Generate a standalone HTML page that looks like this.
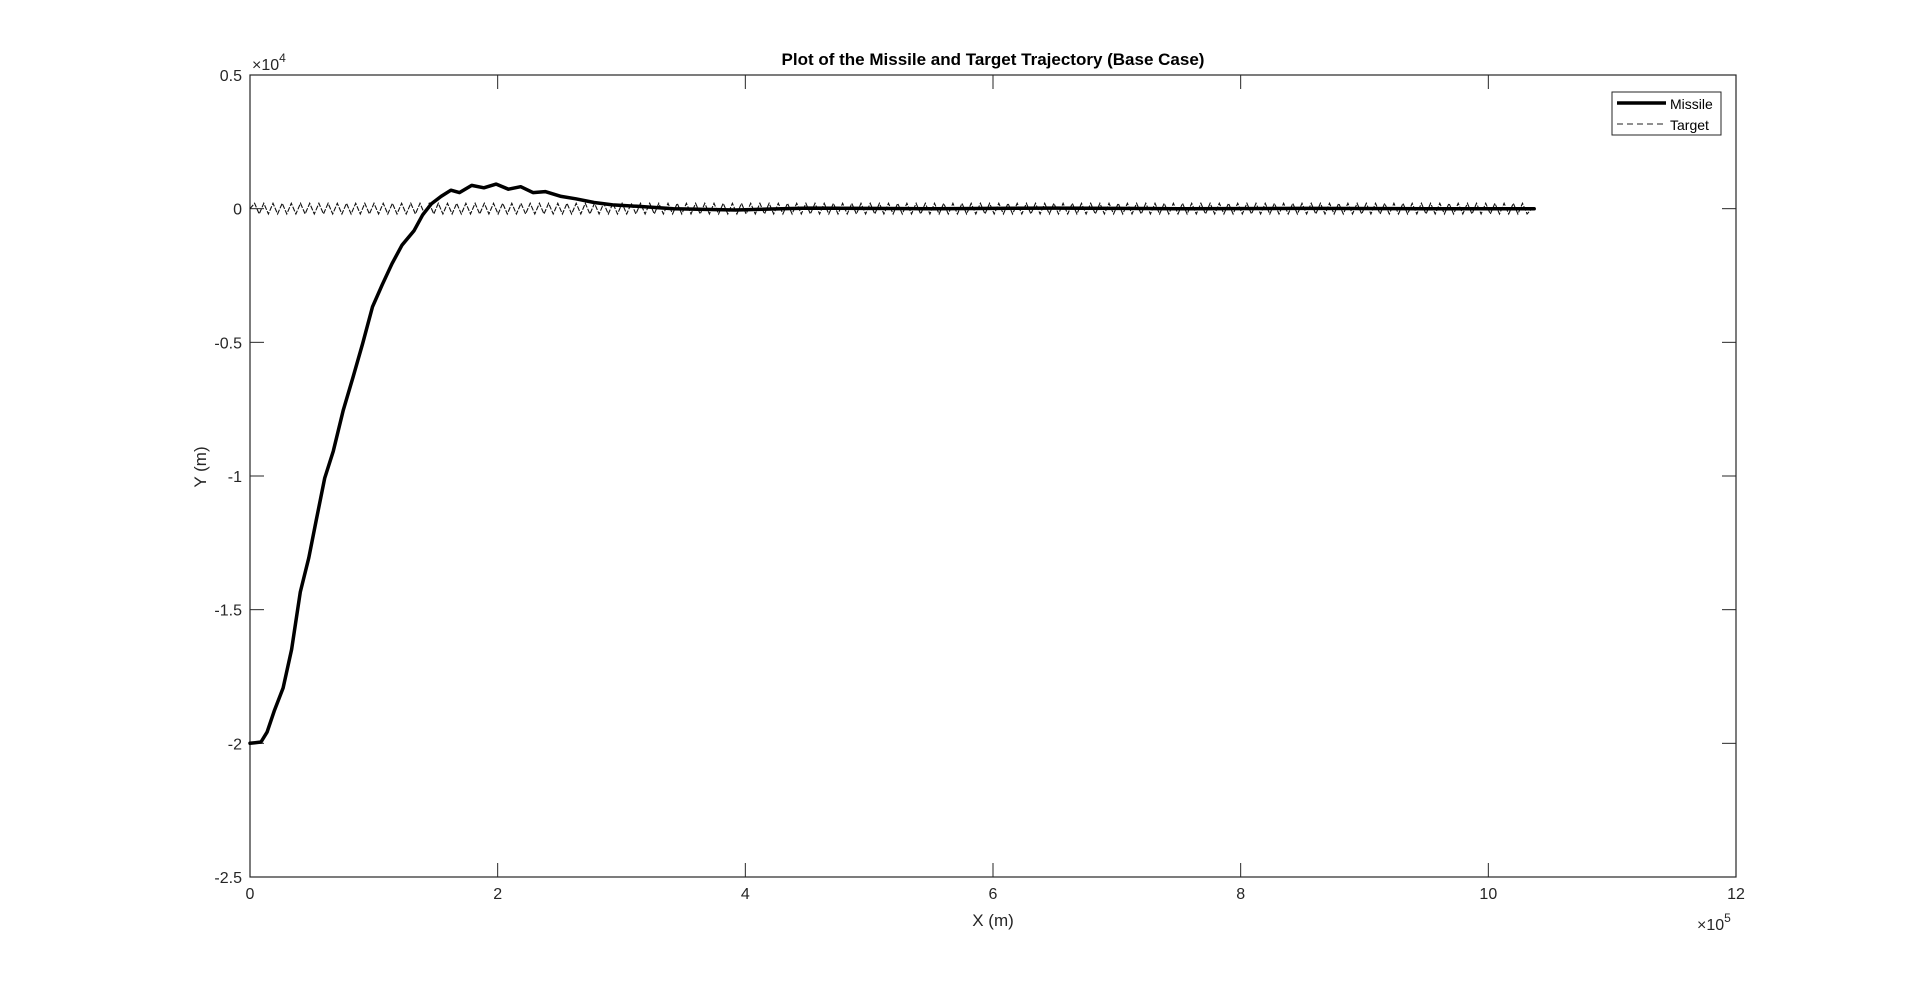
<!DOCTYPE html>
<html><head><meta charset="utf-8"><style>
html,body{margin:0;padding:0;background:#fff;}
svg{display:block;font-family:"Liberation Sans",Arial,sans-serif;}
</style></head><body>
<svg id="chart" width="1920" height="986">
<rect x="0" y="0" width="1920" height="986" fill="#fff"/>
<g id="axes"></g>
<g id="series"></g>
</svg>
<script>
const missileX=[0,0.089,0.138,0.198,0.267,0.336,0.406,0.475,0.534,0.603,0.673,0.752,0.831,0.91,0.989,1.068,1.147,1.227,1.325,1.395,1.464,1.543,1.622,1.691,1.79,1.889,1.988,2.087,2.186,2.285,2.384,2.512,2.631,2.779,2.928,3.126,3.42,3.92,4.5,5.5,6.5,7.5,8.5,9.5,10.37];
const missileY=[-2.0,-1.995,-1.958,-1.876,-1.793,-1.649,-1.434,-1.306,-1.168,-1.008,-0.907,-0.756,-0.632,-0.504,-0.367,-0.284,-0.206,-0.137,-0.082,-0.023,0.018,0.046,0.069,0.06,0.087,0.078,0.092,0.073,0.082,0.06,0.064,0.046,0.037,0.023,0.014,0.009,0.0,-0.005,0.002,0.0,0.002,0.0,0.001,0.0,0.0];
const targetY=[0,0.02,-0.02,0.02,-0.02,0.02,-0.02,0.02,-0.02,0.02,-0.02,0.02,-0.02,0.02,-0.02,0.02,-0.02,0.02,-0.02,0.02,-0.02,0.02,-0.02,0.02,-0.02,0.02,-0.02,0.02,-0.02,0.02,-0.02,0.02,-0.02,0.02,-0.02,0.02,-0.02,0.02,-0.02,0.02,-0.02,0.02,-0.02,0.02,-0.02,0.02,-0.02,0.02,-0.02,0.02,-0.02,0.02,-0.02,0.02,-0.02,0.02,-0.02,0.02,-0.02,0.02,-0.02,0.02,-0.02,0.02,-0.02,0.02,-0.02,0.02,-0.02,0.02,-0.02,0.02,-0.02,0.02,-0.02,0.02,-0.02,0.02,-0.02,0.02,-0.02,0.02,-0.02,0.02,-0.02,0.02,-0.02,0.02,-0.02,0.02,-0.02,0.02,-0.02,0.02,-0.02,0.02,-0.02,0.02,-0.02,0.02,-0.02,0.02,-0.02,0.02,-0.02,0.02,-0.02,0.02,-0.02,0.02,-0.02,0.02,-0.02,0.02,-0.02,0.02,-0.02,0.02,-0.02,0.02,-0.02,0.02,-0.02,0.02,-0.02,0.02,-0.02,0.02,-0.02,0.02,-0.02,0.02,-0.02,0.02,-0.02,0.02,-0.02,0.02,-0.02,0.02,-0.02,0.02,-0.02,0.02,-0.02,0.02,-0.02,0.02,-0.02,0.02,-0.02,0.02,-0.02,0.02,-0.02,0.02,-0.02,0.02,-0.02,0.02,-0.02,0.02,-0.02,0.02,-0.02,0.02,-0.02,0.02,-0.02,0.02,-0.02,0.02,-0.02,0.02,-0.02,0.02,-0.02,0.02,-0.02,0.02,-0.02,0.02,-0.02,0.02,-0.02,0.02,-0.02,0.02,-0.02,0.02,-0.02,0.02,-0.02,0.02,-0.02,0.02,-0.02,0.02,-0.02,0.02,-0.02,0.02,-0.02,0.02,-0.02,0.02,-0.02,0.02,-0.02,0.02,-0.02,0.02,-0.02,0.02,-0.02,0.02,-0.02,0.02,-0.02,0.02,-0.02,0.02,-0.02,0.02,-0.02,0.02,-0.02,0.02,-0.02,0.02,-0.02,0.02,-0.02,0.02,-0.02,0.02,-0.02,0.02,-0.02,0.02,-0.02,0.02,-0.02,0.02,-0.02,0.02,-0.02,0.02,-0.02,0.02,-0.02,0.02,-0.02,0.02,-0.02,0.02,-0.02,0.02,-0.02,0.02,-0.02,0.02,-0.02,0.02,-0.02,0.02,-0.02,0.02,-0.02,0.02,-0.02,0.02,-0.02,0.02,-0.02,0.02,-0.02,0.02,-0.02,0];
const targetXEnd=10.35;
const xTicks=[0,2,4,6,8,10,12];
const yTicks=[0.5,0,-0.5,-1,-1.5,-2,-2.5];
const yTickLabels=["0.5","0","-0.5","-1","-1.5","-2","-2.5"];

const L=250,R=1736,T=75,B=877;
const xS=v=>L+(v-0)/(12-0)*(R-L);
const yS=v=>B-(v+2.5)/3*(B-T);
const NS="http://www.w3.org/2000/svg";
const ax=document.getElementById('axes'), se=document.getElementById('series');
function mk(tag,attrs,parent,text){const e=document.createElementNS(NS,tag);for(const k in attrs)e.setAttribute(k,attrs[k]);if(text!=null)e.textContent=text;parent.appendChild(e);return e;}

let box=mk('rect',{x:L,y:T,width:R-L,height:B-T,fill:'none',stroke:'#262626','stroke-width':1.2},ax);


xTicks.forEach(t=>{const x=xS(t);
 mk('line',{x1:x,y1:B,x2:x,y2:B-14,stroke:'#262626'},ax);
 mk('line',{x1:x,y1:T,x2:x,y2:T+14,stroke:'#262626'},ax);
 const tx=mk('text',{x:x,y:B+22,'text-anchor':'middle','font-size':16,fill:'#262626'},ax,String(t));
 
 
});
yTicks.forEach((t,i)=>{const y=yS(t);
 mk('line',{x1:L,y1:y,x2:L+14,y2:y,stroke:'#262626'},ax);
 mk('line',{x1:R,y1:y,x2:R-14,y2:y,stroke:'#262626'},ax);
 const tx=mk('text',{x:L-8,y:y+6,'text-anchor':'end','font-size':16,fill:'#262626'},ax,yTickLabels[i]);
 
 
});

let td='';targetY.forEach((v,i)=>{const x=xS(targetXEnd*i/(targetY.length-1));td+=(i?'L':'M')+x.toFixed(1)+','+yS(v).toFixed(1);});
let tp=mk('path',{d:td,fill:'none',stroke:'#111','stroke-width':1.1,'stroke-dasharray':'5,1.5'},se);


let md='';missileX.forEach((v,i)=>{md+=(i?'L':'M')+xS(v).toFixed(1)+','+yS(missileY[i]).toFixed(1);});
let mp=mk('path',{d:md,fill:'none',stroke:'#000','stroke-width':3.5,'stroke-linejoin':'round','stroke-linecap':'round'},se);


</script>
<div style="position:absolute;left:0;top:0;width:1920px;height:986px;pointer-events:none;">
<svg width="1920" height="986" style="position:absolute;left:0;top:0">
<text x="993" y="65" text-anchor="middle" font-size="17" font-weight="bold" fill="#000">Plot of the Missile and Target Trajectory (Base Case)</text>
<text x="252" y="70" font-size="16" fill="#262626">×10<tspan font-size="12" dy="-8">4</tspan></text>
<text x="1697" y="930" font-size="16" fill="#262626">×10<tspan font-size="12" dy="-8">5</tspan></text>
<text x="993" y="926" text-anchor="middle" font-size="17" fill="#262626">X (m)</text>
<text transform="translate(206,467) rotate(-90)" text-anchor="middle" font-size="17" fill="#262626">Y (m)</text>
<g>
<rect x="1612" y="92" width="109" height="43" fill="#fff" stroke="#262626" stroke-width="1"/>
<line x1="1617" y1="103" x2="1666" y2="103" stroke="#000" stroke-width="3.5"/>
<text x="1670" y="109" font-size="14" fill="#000">Missile</text>
<line x1="1617" y1="124" x2="1666" y2="124" stroke="#222" stroke-width="1" stroke-dasharray="6,4"/>
<text x="1670" y="130" font-size="14" fill="#000">Target</text>
</g>
</svg></div>
</body></html>
